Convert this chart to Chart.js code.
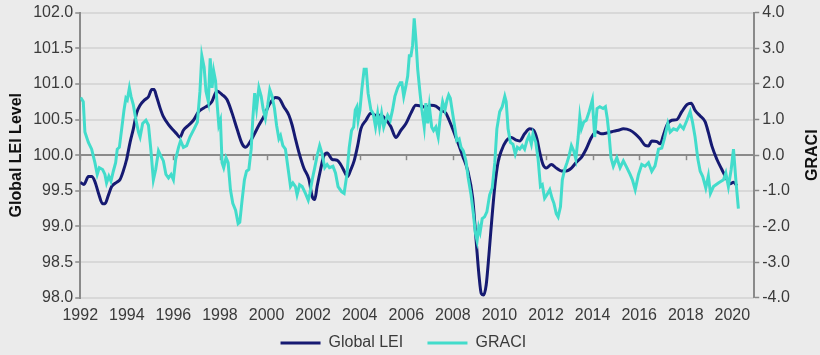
<!DOCTYPE html>
<html>
<head>
<meta charset="utf-8">
<script src="https://cdn.jsdelivr.net/npm/chart.js@4.4.1/dist/chart.umd.min.js"></script>
<style>
  html, body { margin: 0; padding: 0; background: #ebebeb; }
  #wrap { width: 820px; height: 355px; position: relative; }
</style>
</head>
<body>
<div id="wrap"><canvas id="c"></canvas></div>
<script>
// ---- Data ----
const xTickYears = [1992,1994,1996,1998,2000,2002,2004,2006,2008,2010,2012,2014,2016,2018,2020];
const leftTicks = [98.0,98.5,99.0,99.5,100.0,100.5,101.0,101.5,102.0];
const rightTicks = [-4,-3,-2,-1,0,1,2,3,4];
const seriesNames = ['Global LEI', 'GRACI'];

const leiDates = [1992.00,1992.16,1992.35,1992.49,1992.63,1992.78,1992.96,1993.06,1993.21,1993.35,
1993.56,1993.71,1993.85,1993.99,1994.14,1994.28,1994.42,1994.57,1994.78,1994.93,
1995.07,1995.17,1995.28,1995.43,1995.57,1995.79,1996.00,1996.14,1996.28,1996.43,
1996.65,1996.86,1997.08,1997.29,1997.50,1997.65,1997.87,1998.09,1998.30,1998.52,
1998.73,1998.95,1999.10,1999.24,1999.45,1999.67,1999.88,2000.10,2000.38,2000.53,
2000.74,2000.96,2001.10,2001.24,2001.39,2001.60,2001.82,2001.96,2002.07,2002.17,
2002.32,2002.46,2002.60,2002.82,2003.03,2003.18,2003.33,2003.48,2003.62,2003.76,
2003.91,2004.05,2004.27,2004.48,2004.70,2004.91,2005.12,2005.34,2005.55,2005.77,
2005.98,2006.20,2006.41,2006.63,2006.84,2007.06,2007.27,2007.49,2007.70,2007.84,
2007.99,2008.13,2008.27,2008.42,2008.64,2008.85,2009.00,2009.12,2009.22,2009.32,
2009.43,2009.55,2009.67,2009.80,2009.94,2010.08,2010.29,2010.51,2010.72,2010.87,
2011.08,2011.30,2011.47,2011.61,2011.73,2011.87,2012.01,2012.23,2012.44,2012.66,
2012.87,2013.09,2013.30,2013.52,2013.73,2013.95,2014.16,2014.38,2014.59,2014.82,
2015.11,2015.32,2015.61,2015.83,2016.04,2016.25,2016.40,2016.54,2016.76,2016.90,
2017.04,2017.19,2017.40,2017.62,2017.83,2018.05,2018.23,2018.40,2018.62,2018.83,
2018.97,2019.12,2019.34,2019.55,2019.77,2019.91,2020.05,2020.20];

const leiValues = [99.62,99.59,99.70,99.70,99.63,99.47,99.32,99.32,99.44,99.56,
99.62,99.66,99.78,99.94,100.18,100.37,100.59,100.70,100.78,100.82,
100.92,100.92,100.82,100.66,100.54,100.43,100.35,100.30,100.25,100.35,
100.42,100.49,100.61,100.66,100.70,100.75,100.90,100.85,100.78,100.59,
100.37,100.16,100.11,100.16,100.28,100.42,100.54,100.70,100.81,100.80,
100.68,100.56,100.42,100.23,100.04,99.82,99.66,99.42,99.38,99.56,
99.80,99.99,100.03,99.94,99.93,99.87,99.78,99.70,99.80,99.92,
100.13,100.37,100.49,100.59,100.56,100.56,100.50,100.40,100.25,100.35,
100.44,100.59,100.70,100.69,100.67,100.70,100.69,100.63,100.59,100.49,
100.37,100.25,100.13,99.99,99.78,99.40,98.80,98.32,98.06,98.04,
98.18,98.61,99.09,99.56,99.90,100.06,100.20,100.25,100.21,100.20,
100.30,100.37,100.35,100.23,100.04,99.87,99.82,99.87,99.82,99.78,
99.78,99.82,99.90,99.97,100.09,100.25,100.33,100.30,100.31,100.33,
100.35,100.37,100.35,100.30,100.23,100.14,100.13,100.20,100.19,100.16,
100.28,100.42,100.49,100.50,100.61,100.71,100.73,100.63,100.55,100.47,
100.32,100.13,99.94,99.80,99.66,99.60,99.62,99.57];

const graciDates = [1992.02,1992.13,1992.20,1992.35,1992.49,1992.63,1992.73,1992.82,1992.96,1993.06,
1993.13,1993.23,1993.32,1993.42,1993.52,1993.59,1993.68,1993.78,1993.88,1993.96,
1994.02,1994.11,1994.18,1994.28,1994.38,1994.50,1994.57,1994.68,1994.82,1994.93,
1995.03,1995.14,1995.24,1995.36,1995.46,1995.57,1995.68,1995.79,1995.90,1996.00,
1996.10,1996.22,1996.31,1996.43,1996.57,1996.71,1996.89,1997.03,1997.14,1997.22,
1997.32,1997.40,1997.50,1997.58,1997.66,1997.73,1997.81,1997.87,1997.95,1998.02,
1998.09,1998.16,1998.26,1998.35,1998.45,1998.55,1998.67,1998.78,1998.85,1998.95,
1999.05,1999.14,1999.24,1999.34,1999.41,1999.49,1999.57,1999.67,1999.77,1999.85,
1999.95,2000.05,2000.14,2000.24,2000.34,2000.43,2000.53,2000.60,2000.70,2000.81,
2000.93,2001.03,2001.13,2001.24,2001.31,2001.42,2001.53,2001.67,2001.79,2001.86,
2001.96,2002.07,2002.17,2002.28,2002.39,2002.50,2002.60,2002.70,2002.85,2002.96,
2003.07,2003.22,2003.33,2003.45,2003.55,2003.65,2003.74,2003.81,2003.88,2003.93,
2004.01,2004.09,2004.19,2004.28,2004.36,2004.48,2004.58,2004.68,2004.77,2004.85,
2004.94,2005.03,2005.12,2005.20,2005.31,2005.41,2005.51,2005.63,2005.74,2005.81,
2005.89,2005.98,2006.06,2006.13,2006.20,2006.27,2006.34,2006.41,2006.49,2006.59,
2006.67,2006.77,2006.84,2006.92,2006.99,2007.09,2007.17,2007.27,2007.37,2007.46,
2007.56,2007.66,2007.75,2007.82,2007.89,2007.99,2008.08,2008.17,2008.27,2008.35,
2008.45,2008.56,2008.66,2008.78,2008.89,2008.96,2009.04,2009.11,2009.17,2009.26,
2009.36,2009.46,2009.58,2009.69,2009.80,2009.89,2010.01,2010.12,2010.23,2010.29,
2010.37,2010.47,2010.58,2010.68,2010.77,2010.87,2010.98,2011.08,2011.18,2011.27,
2011.37,2011.44,2011.56,2011.66,2011.76,2011.84,2011.94,2012.04,2012.16,2012.26,
2012.34,2012.44,2012.52,2012.62,2012.70,2012.80,2012.90,2012.99,2013.09,2013.19,
2013.28,2013.38,2013.45,2013.52,2013.62,2013.73,2013.85,2013.99,2014.02,2014.09,
2014.19,2014.31,2014.45,2014.55,2014.63,2014.71,2014.79,2014.89,2015.04,2015.18,
2015.32,2015.47,2015.61,2015.71,2015.83,2015.97,2016.11,2016.25,2016.40,2016.54,
2016.68,2016.83,2016.97,2017.08,2017.23,2017.33,2017.47,2017.62,2017.76,2017.90,
2018.05,2018.19,2018.29,2018.40,2018.52,2018.62,2018.73,2018.86,2018.97,2019.06,
2019.19,2019.40,2019.62,2019.72,2019.83,2019.95,2020.05,2020.15,2020.26];

const graciValues = [1.62,1.50,0.65,0.36,0.17,-0.21,-0.54,-0.35,-0.40,-0.54,
-0.78,-0.59,-0.73,-0.45,-0.21,0.17,0.22,0.74,1.27,1.60,
1.55,1.89,1.65,1.41,1.03,0.65,0.51,0.89,0.98,0.84,
0.17,-0.69,-0.40,0.12,-0.02,-0.16,-0.54,-0.64,-0.54,-0.69,
-0.11,0.22,0.41,0.22,0.27,0.51,0.74,0.93,1.79,2.79,
2.46,1.79,1.50,2.72,1.89,2.36,2.08,1.50,0.84,0.98,
-0.21,-0.35,-0.07,-0.21,-0.97,-1.35,-1.54,-1.92,-1.88,-1.26,
-0.69,-0.45,-0.40,0.17,1.03,1.74,1.31,1.89,1.65,1.31,
1.03,1.41,1.84,1.65,1.31,0.84,0.46,0.55,0.27,0.17,
-0.40,-0.88,-0.78,-0.88,-1.11,-0.83,-0.88,-1.07,-1.26,-1.07,
-0.69,-0.35,-0.02,0.27,0.03,-0.35,-0.26,-0.35,-0.31,-0.50,
-0.88,-1.02,-1.07,-0.54,0.22,0.69,0.79,1.27,1.36,0.98,
1.27,1.84,2.41,2.41,1.74,1.27,1.17,0.79,1.17,0.79,
1.17,0.79,0.98,1.12,0.98,1.27,1.65,1.89,2.03,2.03,
1.65,1.93,2.22,2.79,2.79,3.08,3.84,3.27,2.41,1.74,
1.27,0.79,1.46,0.89,1.36,0.79,0.69,0.79,0.51,1.08,
1.50,1.27,1.55,1.69,1.60,1.17,0.79,0.41,0.46,0.22,
0.12,-0.16,-0.64,-1.11,-1.69,-2.16,-2.40,-2.02,-2.16,-1.78,
-1.73,-1.59,-1.11,-0.92,-0.21,0.74,1.22,1.36,1.65,1.50,
0.74,0.36,0.31,0.03,0.22,0.17,0.27,0.17,0.41,0.55,
0.31,0.60,0.36,-0.11,-0.88,-0.83,-1.21,-1.11,-0.97,-1.21,
-1.35,-1.64,-1.73,-1.45,-0.69,-0.40,-0.21,-0.02,0.27,0.12,
-0.11,0.51,1.08,0.74,0.93,0.98,1.22,1.55,1.22,0.51,
1.31,1.36,1.31,1.36,1.03,0.55,-0.07,-0.31,-0.07,-0.35,
-0.16,-0.35,-0.54,-0.69,-0.97,-0.54,-0.26,-0.31,-0.21,-0.45,
-0.30,0.17,0.20,0.46,0.89,0.65,0.74,0.70,0.84,0.74,
0.98,1.22,0.93,0.51,-0.11,-0.45,-0.60,-0.92,-0.58,-1.07,
-0.88,-0.78,-0.69,-0.50,-0.88,-0.40,0.17,-0.69,-1.50];

// ---- Styling ----
const FONT = '"Liberation Sans", Arial, sans-serif';
const LEI_COLOR = '#161a72';
const GRACI_COLOR = '#42dccb';
const AXIS_COLOR = '#8a8a8a';
const GRID_COLOR = '#d8d8d8';
const TEXT_COLOR = '#3a3a3a';

Chart.defaults.font.family = FONT;

const bgPlugin = {
  id: 'bg',
  beforeDraw(chart) {
    const ctx = chart.ctx;
    ctx.save();
    ctx.fillStyle = '#ebebeb';
    ctx.fillRect(0, 0, chart.width, chart.height);
    ctx.restore();
  }
};

// small tick marks on the 100.0 crossing line (category axis crossing)
const crossTicks = {
  id: 'crossTicks',
  beforeDatasetsDraw(chart) {
    const ctx = chart.ctx, xs = chart.scales.x, ys = chart.scales.y;
    const y0 = ys.getPixelForValue(100);
    ctx.save();
    ctx.strokeStyle = AXIS_COLOR;
    ctx.lineWidth = 1.5;
    xTickYears.forEach(v => {
      const x = Math.round(xs.getPixelForValue(v)) + 0.5;
      ctx.beginPath();
      ctx.moveTo(x, y0);
      ctx.lineTo(x, y0 + 5);
      ctx.stroke();
    });
    ctx.restore();
  }
};

// right axis title drawn bottom-to-top like the reference
const rightTitle = {
  id: 'rightTitle',
  afterDraw(chart) {
    const ctx = chart.ctx, s = chart.scales.y1;
    ctx.save();
    ctx.translate(s.right - 5, (chart.chartArea.top + chart.chartArea.bottom) / 2);
    ctx.rotate(-Math.PI / 2);
    ctx.font = 'bold 16px ' + FONT;
    ctx.fillStyle = '#111';
    ctx.textAlign = 'center';
    ctx.textBaseline = 'middle';
    ctx.fillText('GRACI', 0, 0);
    ctx.restore();
  }
};

new Chart(document.getElementById('c'), {
  type: 'line',
  data: {
    datasets: [
      {
        label: seriesNames[0],
        data: leiDates.map((d, i) => ({ x: d, y: leiValues[i] })),
        yAxisID: 'y',
        borderColor: LEI_COLOR,
        backgroundColor: LEI_COLOR,
        borderWidth: 3,
        pointRadius: 0,
        cubicInterpolationMode: 'monotone',
        order: 1
      },
      {
        label: seriesNames[1],
        data: graciDates.map((d, i) => ({ x: d, y: graciValues[i] })),
        yAxisID: 'y1',
        borderColor: GRACI_COLOR,
        backgroundColor: GRACI_COLOR,
        borderWidth: 3,
        pointRadius: 0,
        tension: 0,
        order: 0
      }
    ]
  },
  options: {
    responsive: true,
    maintainAspectRatio: false,
    animation: false,
    devicePixelRatio: 1,
    layout: { padding: { top: 10, left: 2, right: 2, bottom: -6 } },
    plugins: {
      tooltip: { enabled: false },
      legend: {
        position: 'bottom',
        labels: {
          font: { size: 16 },
          color: TEXT_COLOR,
          usePointStyle: true,
          pointStyle: 'line',
          pointStyleWidth: 40,
          boxHeight: 16,
          padding: 2,
          sort: (a, b) => a.datasetIndex - b.datasetIndex,
          generateLabels: (chart) => {
            const items = Chart.defaults.plugins.legend.labels.generateLabels(chart);
            items.forEach(it => { it.text = it.text + (it.datasetIndex === 0 ? '     ' : '   '); });
            return items;
          }
        }
      }
    },
    scales: {
      x: {
        type: 'linear',
        position: 'bottom',
        min: 1992,
        max: 2020.94,
        afterBuildTicks: (scale) => { scale.ticks = xTickYears.map(v => ({ value: v })); },
        grid: { display: false, drawTicks: false },
        border: { display: false },
        ticks: {
          font: { size: 16 },
          color: TEXT_COLOR,
          padding: 8,
          maxRotation: 0,
          autoSkip: false,
          callback: (v) => String(v)
        }
      },
      y: {
        type: 'linear',
        position: 'left',
        min: 98,
        max: 102,
        afterBuildTicks: (scale) => { scale.ticks = leftTicks.map(v => ({ value: v })); },
        ticks: {
          font: { size: 16 },
          color: TEXT_COLOR,
          padding: 2,
          callback: (v) => Number(v).toFixed(1)
        },
        grid: {
          color: (c) => (c.tick && c.tick.value === 100 ? AXIS_COLOR : GRID_COLOR),
          lineWidth: 2,
          tickColor: AXIS_COLOR,
          tickLength: 5,
          tickWidth: 1.5
        },
        border: { display: true, color: AXIS_COLOR, width: 2 },
        title: {
          display: true,
          text: 'Global LEI Level',
          font: { size: 16, weight: 'bold' },
          color: '#111',
          padding: { top: 5, bottom: 5 }
        }
      },
      y1: {
        type: 'linear',
        position: 'right',
        min: -4,
        max: 4,
        afterBuildTicks: (scale) => { scale.ticks = rightTicks.map(v => ({ value: v })); },
        ticks: {
          font: { size: 16 },
          color: TEXT_COLOR,
          padding: 3,
          callback: (v) => Number(v).toFixed(1)
        },
        grid: {
          drawOnChartArea: false,
          color: AXIS_COLOR,
          tickLength: 5,
          tickWidth: 1.5
        },
        border: { display: true, color: AXIS_COLOR, width: 2 },
        title: {
          display: true,
          text: 'GRACI',
          font: { size: 16, weight: 'bold' },
          color: 'rgba(0,0,0,0)',
          padding: { top: 6, bottom: 0 }
        }
      }
    }
  },
  plugins: [bgPlugin, crossTicks, rightTitle]
});
</script>
</body>
</html>
